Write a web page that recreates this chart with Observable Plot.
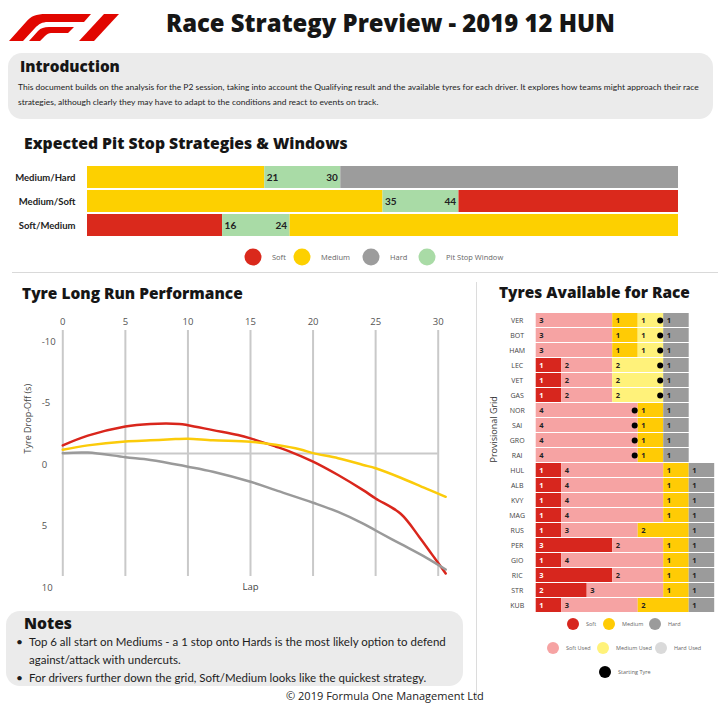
<!DOCTYPE html>
<html><head><meta charset="utf-8">
<script src="https://cdn.jsdelivr.net/npm/d3@7"></script>
<script src="https://cdn.jsdelivr.net/npm/@observablehq/plot@0.6"></script>
<style>
body{margin:0;background:#fff;}
#page{position:relative;width:720px;height:705px;overflow:hidden;font-family:Lato,"Noto Sans",sans-serif;color:#1d1d1d;background:#fff;}
.abs{position:absolute;white-space:nowrap;}
.mid{transform:translateY(-50%);line-height:1.2;}
.h{font-family:"Open Sans",sans-serif;font-weight:800;color:#161616;}
.box{position:absolute;background:#ebebeb;border-radius:14px;}
.dot{position:absolute;border-radius:50%;transform:translate(-50%,-50%);}
.lg{position:absolute;transform:translateY(-50%);font-family:"Open Sans",sans-serif;color:#666;white-space:nowrap;}
</style></head><body><div id="page">

<svg class="abs" style="left:9px;top:13px" width="112" height="28" viewBox="0 0 112 28">
  <path fill="#e10600" d="M0,28 L17,9 C22,3 27,1 37,1 L82,1 L75,9 L39,9 C33,9 30,11 26,15 L14,28 Z"/>
  <path fill="#e10600" d="M20,28 L29,18 C32,15 35,14 40,14 L65,14 L59,20 L42,20 C40,20 38,21 36,23 L31,28 Z"/>
  <path fill="#e10600" d="M70,28 L95,1 L110,1 L85,28 Z"/>
</svg>
<div id="title" class="abs mid h" style="left:166px;top:23px;font-size:22px;">Race Strategy Preview - 2019 12 HUN</div>

<div class="box" style="left:8px;top:53px;width:705px;height:66px;"></div>
<div id="introH" class="abs mid h" style="left:20px;top:66px;font-size:15px;">Introduction</div>
<div id="intro1" class="abs mid" style="left:18px;top:87px;font-size:8px;">This document builds on the analysis for the P2 session, taking into account the Qualifying result and the available tyres for each driver. It explores how teams might approach their race</div>
<div id="intro2" class="abs mid" style="left:18px;top:102px;font-size:8px;">strategies, although clearly they may have to adapt to the conditions and react to events on track.</div>

<div id="stratH" class="abs mid h" style="left:24px;top:143px;font-size:15px;">Expected Pit Stop Strategies &amp; Windows</div>
<div id="strat" class="abs" style="left:0;top:155px;"></div>
<div id="legend1"></div>
<div class="abs" style="left:12px;top:272px;width:706px;height:1px;background:#d9d9d9;"></div>

<div id="longH" class="abs mid h" style="left:22px;top:293px;font-size:15px;">Tyre Long Run Performance</div>
<div id="long" class="abs" style="left:0;top:300px;"></div>
<div class="abs" style="left:476px;top:282px;width:1px;height:418px;background:#dcdcdc;"></div>

<div id="tyreH" class="abs mid h" style="left:499px;top:293px;font-size:15px;">Tyres Available for Race</div>
<div id="tyres" class="abs" style="left:480px;top:300px;"></div>
<div id="legend3"></div>

<div class="box" style="left:6px;top:611px;width:457px;height:75px;"></div>
<div id="notesH" class="abs mid h" style="left:24px;top:623px;font-size:15px;">Notes</div>
<div class="abs mid" style="left:16px;top:642px;font-size:12px;">•</div>
<div id="note1" class="abs mid" style="left:29px;top:642px;font-size:12px;">Top 6 all start on Mediums - a 1 stop onto Hards is the most likely option to defend</div>
<div id="note2" class="abs mid" style="left:29px;top:660px;font-size:12px;">against/attack with undercuts.</div>
<div class="abs mid" style="left:16px;top:678px;font-size:12px;">•</div>
<div id="note3" class="abs mid" style="left:29px;top:678px;font-size:12px;">For drivers further down the grid, Soft/Medium looks like the quickest strategy.</div>
<div id="copy" class="abs mid" style="left:286px;top:696px;font-size:12px;font-family:'Open Sans',sans-serif;color:#222;">© 2019 Formula One Management Ltd</div>
</div>
<script>
// ---------- Data: pit stop strategies ----------
const strategies = ["Medium/Hard", "Medium/Soft", "Soft/Medium"];
const firstStint = ["Medium", "Medium", "Soft"];
const secondStint = ["Hard", "Soft", "Medium"];
const windowOpen = [21, 35, 16];
const windowClose = [30, 44, 24];
const raceLaps = 70;
const compounds = ["Soft", "Medium", "Hard", "Pit Stop Window"];
const compoundColors = ["#da291c", "#fdd000", "#9c9c9c", "#a9dba6"];

// ---------- Data: tyre long run performance ----------
const lapTicks = [0, 5, 10, 15, 20, 25, 30];
const dropTicks = [-10, -5, 0, 5, 10];
const softLaps = [0, 2, 5, 7, 9.3, 10, 12, 14, 15, 17, 18, 20, 22, 24, 25, 27, 28.5, 29.5, 30.6];
const softDrop = [-0.66, -1.45, -2.2, -2.4, -2.4, -2.3, -1.9, -1.5, -1.23, -0.57, -0.22, 0.66, 1.75, 2.98, 3.66, 4.9, 6.8, 8.2, 9.75];
const mediumLaps = [0, 2, 5, 7, 9, 10, 12, 15, 17, 19, 20, 22, 24, 25, 27, 29, 30.6];
const mediumDrop = [-0.3, -0.66, -0.98, -1.07, -1.17, -1.2, -1.07, -0.96, -0.71, -0.33, -0.03, 0.38, 0.93, 1.2, 1.97, 2.84, 3.52];
const hardLaps = [0, 2, 5, 7, 10, 12, 15, 17, 20, 22, 24, 25, 27, 29, 30.6];
const hardDrop = [-0.03, -0.08, 0.3, 0.52, 1.07, 1.48, 2.3, 2.98, 4.0, 4.75, 5.7, 6.26, 7.35, 8.44, 9.43];
const runCompounds = ["Soft", "Medium", "Hard"];
const runColors = ["#d9261c", "#fbcb0a", "#9a9a9a"];

// ---------- Data: tyres available ----------
const drivers = ["VER","BOT","HAM","LEC","VET","GAS","NOR","SAI","GRO","RAI","HUL","ALB","KVY","MAG","RUS","PER","GIO","RIC","STR","KUB"];
const tyreTypes = ["Soft", "Soft Used", "Medium", "Medium Used", "Hard", "Hard Used"];
const tyreColors = ["#d7261e", "#f6a3a3", "#ffcb05", "#fff27a", "#9b9b9b", "#dadada"];
const softNew    = [0,0,0,1,1,1,0,0,0,0,1,1,1,1,1,3,1,3,2,1];
const softUsed   = [3,3,3,2,2,2,4,4,4,4,4,4,4,4,3,2,4,2,3,3];
const mediumNew  = [1,1,1,0,0,0,1,1,1,1,1,1,1,1,2,1,1,1,1,2];
const mediumUsed = [1,1,1,2,2,2,0,0,0,0,0,0,0,0,0,0,0,0,0,0];
const hardNew    = [1,1,1,1,1,1,1,1,1,1,1,1,1,1,1,1,1,1,1,1];
const hardUsed   = [0,0,0,0,0,0,0,0,0,0,0,0,0,0,0,0,0,0,0,0];
const startingTyre = ["Medium Used","Medium Used","Medium Used","Medium Used","Medium Used","Medium Used","Soft Used","Soft Used","Soft Used","Soft Used",null,null,null,null,null,null,null,null,null,null];

// ---------- text fitting ----------
function fit(id, w) {
  const el = document.getElementById(id);
  const cur = el.getBoundingClientRect().width;
  const fs = parseFloat(getComputedStyle(el).fontSize);
  const nfs = fs * w / cur;
  el.style.fontSize = nfs + "px";
  return nfs;
}
fit("title", 449);
fit("introH", 100);
const ifs = fit("intro1", 682); document.getElementById("intro2").style.fontSize = ifs + "px";
fit("stratH", 324);
fit("longH", 221);
fit("tyreH", 191);
fit("notesH", 48);
const nfs = fit("note1", 417);
document.getElementById("note2").style.fontSize = nfs + "px";
document.getElementById("note3").style.fontSize = nfs + "px";
fit("copy", 198);

// ---------- Plot 1: strategies ----------
const stints = [];
const windowLabels = [];
strategies.forEach((s, i) => {
  stints.push({strategy: s, start: 0, end: windowOpen[i], compound: firstStint[i]});
  stints.push({strategy: s, start: windowOpen[i], end: windowClose[i], compound: "Pit Stop Window"});
  stints.push({strategy: s, start: windowClose[i], end: raceLaps, compound: secondStint[i]});
  windowLabels.push({strategy: s, open: windowOpen[i], close: windowClose[i]});
});
document.getElementById("strat").append(Plot.plot({
  width: 720, height: 90,
  marginLeft: 87, marginRight: 42, marginTop: 10, marginBottom: 9,
  style: {background: "transparent", fontFamily: "Lato, sans-serif", fontSize: "9.5px", fontWeight: "bold", color: "#222"},
  x: {domain: [0, raceLaps], axis: null},
  y: {type: "band", domain: strategies, paddingInner: 0.085, paddingOuter: 0},
  color: {domain: compounds, range: compoundColors},
  marks: [
    Plot.barX(stints, {x1: "start", x2: "end", y: "strategy", fill: "compound"}),
    Plot.text(windowLabels, {x: "open", y: "strategy", text: d => String(d.open), textAnchor: "start", dx: 2, fill: "#222", fontSize: 10}),
    Plot.text(windowLabels, {x: "close", y: "strategy", text: d => String(d.close), textAnchor: "end", dx: -3, fill: "#222", fontSize: 10}),
    Plot.axisY({tickSize: 0, tickPadding: 12, label: null, fill: "#222"})
  ]
}));

// legend 1
const lg1 = document.getElementById("legend1");
const lg1Circle = [253, 302, 371, 427];
compounds.forEach((c, i) => {
  const d = document.createElement("div");
  d.className = "dot";
  d.style.cssText += `left:${lg1Circle[i]}px;top:257px;width:17px;height:17px;background:${compoundColors[i]};`;
  lg1.append(d);
  const t = document.createElement("div");
  t.className = "lg";
  t.style.cssText += `left:${lg1Circle[i] + 19}px;top:257px;font-size:7.5px;`;
  t.textContent = c;
  lg1.append(t);
});

// ---------- Plot 2: long run ----------
const runs = [];
[[softLaps, softDrop], [mediumLaps, mediumDrop], [hardLaps, hardDrop]].forEach(([laps, drops], k) => {
  laps.forEach((l, j) => runs.push({compound: runCompounds[k], lap: l, drop: drops[j]}));
});
document.getElementById("long").append(Plot.plot({
  width: 475, height: 300,
  marginLeft: 62.3, marginRight: 37.3, marginTop: 30, marginBottom: 24,
  style: {background: "transparent", fontFamily: "'Open Sans', sans-serif", fontSize: "9.5px", color: "#555"},
  x: {domain: [0, 30]},
  y: {domain: [-10, 10], reverse: true},
  color: {domain: runCompounds, range: runColors},
  marks: [
    Plot.ruleX(lapTicks, {stroke: "#c9c9c9", strokeWidth: 2}),
    Plot.ruleY([0], {x1: 0, x2: 30, stroke: "#c9c9c9", strokeWidth: 2}),
    Plot.line(runs, {x: "lap", y: "drop", stroke: "compound", curve: "catmull-rom", strokeWidth: 2.5}),
    Plot.axisX(lapTicks, {anchor: "top", tickSize: 0, tickPadding: 6, label: null, fill: "#555", tickFormat: d => String(d)}),
    Plot.axisY(dropTicks, {anchor: "left", tickSize: 0, tickPadding: 21, textAnchor: "start", dy: 11, label: null, fill: "#555", tickFormat: d => String(d)}),
    Plot.text(["Tyre Drop-Off (s)"], {frameAnchor: "left", rotate: -90, dx: -35, fill: "#444", fontSize: 9}),
    Plot.text(["Lap"], {frameAnchor: "bottom", dy: 13, fill: "#444", fontSize: 9.5})
  ]
}));

// ---------- Plot 3: tyres available ----------
const segs = [];
const starts = [];
drivers.forEach((drv, i) => {
  const counts = [softNew[i], softUsed[i], mediumNew[i], mediumUsed[i], hardNew[i], hardUsed[i]];
  let acc = 0;
  counts.forEach((n, k) => {
    if (n > 0) {
      const seg = {driver: drv, type: tyreTypes[k], count: n, x1: acc, x2: acc + n};
      segs.push(seg);
      if (startingTyre[i] === tyreTypes[k]) starts.push(seg);
    }
    acc += n;
  });
});
document.getElementById("tyres").append(Plot.plot({
  width: 240, height: 320,
  marginLeft: 55.7, marginRight: 5.8, marginTop: 10.7, marginBottom: 6.7,
  style: {background: "transparent", fontFamily: "'Open Sans', sans-serif", fontSize: "7px", color: "#444"},
  x: {domain: [0, 7], axis: null},
  y: {type: "band", domain: drivers, paddingInner: 0.1, paddingOuter: 0},
  color: {domain: tyreTypes, range: tyreColors},
  marks: [
    Plot.barX(segs, {x1: "x1", x2: "x2", y: "driver", fill: "type"}),
    Plot.text(segs.filter(d => d.type === "Soft"), {x: "x1", y: "driver", text: d => String(d.count), textAnchor: "start", dx: 3, fill: "white", fontWeight: "bold", fontSize: 7.5}),
    Plot.text(segs.filter(d => d.type !== "Soft"), {x: "x1", y: "driver", text: d => String(d.count), textAnchor: "start", dx: 3, fill: "#222", fontWeight: "bold", fontSize: 7.5}),
    Plot.dot(starts, {x: "x2", y: "driver", r: 3, fill: "black", dx: -3.5}),
    Plot.axisY({tickSize: 0, tickPadding: 19, textAnchor: "middle", label: null, fill: "#444"}),
    Plot.text(["Provisional Grid"], {frameAnchor: "left", rotate: -90, dx: -42, fill: "#333", fontSize: 9})
  ]
}));

// legend 3
const lg3 = document.getElementById("legend3");
const lg3Types = ["Soft", "Medium", "Hard", "Soft Used", "Medium Used", "Hard Used", "Starting Tyre"];
const lg3Colors = [tyreColors[0], tyreColors[2], tyreColors[4], tyreColors[1], tyreColors[3], tyreColors[5], "#000"];
const lg3X = [573, 609, 655, 553, 603, 661, 605];
const lg3Y = [624, 624, 624, 648, 648, 648, 672];
lg3Types.forEach((c, i) => {
  const d = document.createElement("div");
  d.className = "dot";
  d.style.cssText += `left:${lg3X[i]}px;top:${lg3Y[i]}px;width:12px;height:12px;background:${lg3Colors[i]};`;
  lg3.append(d);
  const t = document.createElement("div");
  t.className = "lg";
  t.style.cssText += `left:${lg3X[i] + 13}px;top:${lg3Y[i]}px;font-size:5.5px;`;
  t.textContent = c;
  lg3.append(t);
});
</script>
</body></html>
